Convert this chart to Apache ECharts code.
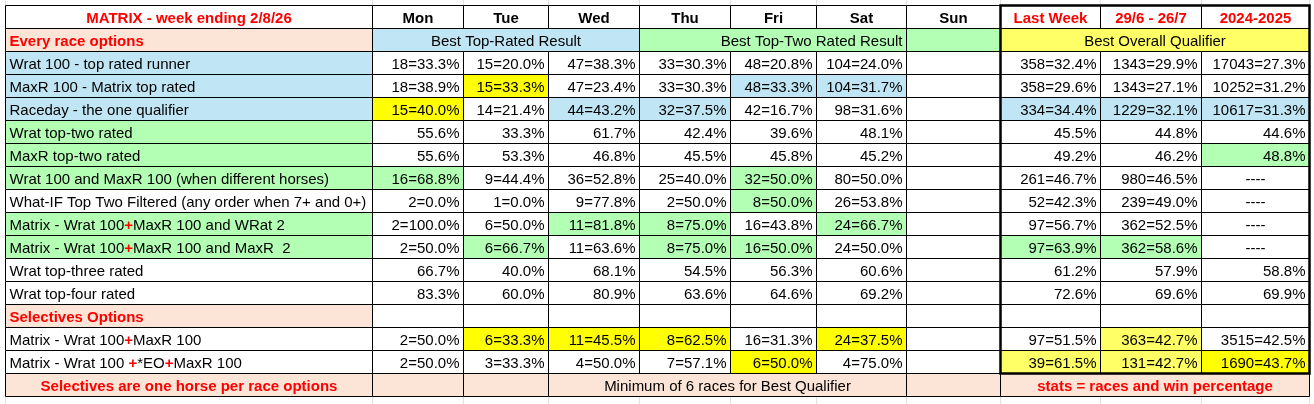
<!DOCTYPE html>
<html>
<head>
<meta charset="utf-8">
<script src="https://cdn.jsdelivr.net/npm/echarts@6.0.0/dist/echarts.min.js"></script>
<style>
html, body { margin: 0; padding: 0; background: #fff; }
#main { width: 1314px; height: 404px; }
</style>
</head>
<body>
<div id="main"></div>
<script>
// table data
const title = 'MATRIX - week ending 2/8/26';
const dayCols = ['Mon', 'Tue', 'Wed', 'Thu', 'Fri', 'Sat', 'Sun'];
const periodCols = ['Last Week', '29/6 - 26/7', '2024-2025'];
const groupTitles = ['Best Top-Rated Result', 'Best Top-Two Rated Result', 'Best Overall Qualifier'];
const sectionTitles = ['Every race options', 'Selectives Options'];
const everyRaceRows = [
    'Wrat 100 - top rated runner',
    'MaxR 100 - Matrix top rated',
    'Raceday - the one qualifier',
    'Wrat top-two rated',
    'MaxR top-two rated',
    'Wrat 100 and MaxR 100 (when different horses)',
    'What-IF Top Two Filtered (any order when 7+ and 0+)',
    'Matrix - Wrat 100+MaxR 100 and WRat 2',
    'Matrix - Wrat 100+MaxR 100 and MaxR  2',
    'Wrat top-three rated',
    'Wrat top-four rated'
];
const selectiveRows = [
    'Matrix - Wrat 100+MaxR 100',
    'Matrix - Wrat 100 +*EO+MaxR 100'
];
const footerNotes = [
    'Selectives are one horse per race options',
    'Minimum of 6 races for Best Qualifier',
    'stats = races and win percentage'
];

const mon = ['18=33.3%', '18=38.9%', '15=40.0%', '55.6%', '55.6%', '16=68.8%', '2=0.0%', '2=100.0%', '2=50.0%', '66.7%', '83.3%', '2=50.0%', '2=50.0%'];
const tue = ['15=20.0%', '15=33.3%', '14=21.4%', '33.3%', '53.3%', '9=44.4%', '1=0.0%', '6=50.0%', '6=66.7%', '40.0%', '60.0%', '6=33.3%', '3=33.3%'];
const wed = ['47=38.3%', '47=23.4%', '44=43.2%', '61.7%', '46.8%', '36=52.8%', '9=77.8%', '11=81.8%', '11=63.6%', '68.1%', '80.9%', '11=45.5%', '4=50.0%'];
const thu = ['33=30.3%', '33=30.3%', '32=37.5%', '42.4%', '45.5%', '25=40.0%', '2=50.0%', '8=75.0%', '8=75.0%', '54.5%', '63.6%', '8=62.5%', '7=57.1%'];
const fri = ['48=20.8%', '48=33.3%', '42=16.7%', '39.6%', '45.8%', '32=50.0%', '8=50.0%', '16=43.8%', '16=50.0%', '56.3%', '64.6%', '16=31.3%', '6=50.0%'];
const sat = ['104=24.0%', '104=31.7%', '98=31.6%', '48.1%', '45.2%', '80=50.0%', '26=53.8%', '24=66.7%', '24=50.0%', '60.6%', '69.2%', '24=37.5%', '4=75.0%'];
const sun = ['', '', '', '', '', '', '', '', '', '', '', '', ''];
const lastWeek = ['358=32.4%', '358=29.6%', '334=34.4%', '45.5%', '49.2%', '261=46.7%', '52=42.3%', '97=56.7%', '97=63.9%', '61.2%', '72.6%', '97=51.5%', '39=61.5%'];
const lastMonth = ['1343=29.9%', '1343=27.1%', '1229=32.1%', '44.8%', '46.2%', '980=46.5%', '239=49.0%', '362=52.5%', '362=58.6%', '57.9%', '69.6%', '363=42.7%', '131=42.7%'];
const season = ['17043=27.3%', '10252=31.2%', '10617=31.3%', '44.6%', '48.8%', '----', '----', '----', '----', '58.8%', '69.9%', '3515=42.5%', '1690=43.7%'];

const valueCols = [mon, tue, wed, thu, fri, sat, sun, lastWeek, lastMonth, season];

// styles
const PEACH = '#FCE4D6', BLUE = '#C0E6F5', GREEN = '#B3FFB3', YELLOW = '#FFFF00', LYELLOW = '#FFFF66', RED = '#FF0000';
const FONT = '"Liberation Sans", Arial, sans-serif';
const FS = 15;
const labelFills = [BLUE, BLUE, BLUE, GREEN, GREEN, GREEN, null, GREEN, GREEN, null, null, null, null];
// body row index , value column index (0 = Mon)
const highlights = {
    '1,1': YELLOW, '1,4': BLUE, '1,5': BLUE,
    '2,0': YELLOW, '2,2': BLUE, '2,3': BLUE, '2,7': BLUE, '2,8': BLUE, '2,9': BLUE,
    '4,9': GREEN,
    '5,0': GREEN, '5,4': GREEN,
    '6,4': GREEN,
    '7,2': GREEN, '7,3': GREEN, '7,5': GREEN,
    '8,1': GREEN, '8,3': GREEN, '8,4': GREEN, '8,7': GREEN, '8,8': GREEN,
    '11,1': YELLOW, '11,2': YELLOW, '11,3': YELLOW, '11,5': YELLOW, '11,8': LYELLOW,
    '12,4': YELLOW, '12,7': LYELLOW, '12,8': LYELLOW, '12,9': YELLOW
};

// layout: column edges in px from table left
const colEdges = [0, 367, 458, 543, 634, 725, 811, 901, 995, 1095, 1196, 1304];
const ROWS = 17;

const cells = [];
function addCell(c0, c1, row, text, opt) {
    opt = opt || {};
    cells.push({
        value: [colEdges[c0], colEdges[c1], row, row + 1],
        text: text,
        fill: opt.fill || '#fff',
        color: opt.color || '#000',
        bold: !!opt.bold,
        align: opt.align || 'right',
        redPlus: !!opt.redPlus
    });
}

addCell(0, 1, 0, title, { color: RED, bold: true, align: 'center' });
dayCols.forEach((d, i) => addCell(i + 1, i + 2, 0, d, { bold: true, align: 'center' }));
periodCols.forEach((d, i) => addCell(i + 8, i + 9, 0, d, { bold: true, color: RED, align: 'center' }));

addCell(0, 1, 1, sectionTitles[0], { fill: PEACH, color: RED, bold: true, align: 'left' });
addCell(1, 4, 1, groupTitles[0], { fill: BLUE, align: 'center' });
addCell(4, 7, 1, groupTitles[1], { fill: GREEN, align: 'right' });
addCell(7, 8, 1, '', { fill: GREEN });
addCell(8, 11, 1, groupTitles[2], { fill: LYELLOW, align: 'center' });

function addBodyRow(i, row, label) {
    addCell(0, 1, row, label, { fill: labelFills[i], align: 'left', redPlus: label.indexOf('Matrix') === 0 });
    valueCols.forEach((col, c) => {
        const v = col[i];
        addCell(c + 1, c + 2, row, v, {
            fill: highlights[i + ',' + c],
            align: v === '----' ? 'center' : 'right'
        });
    });
}
everyRaceRows.forEach((label, i) => addBodyRow(i, i + 2, label));

addCell(0, 1, 13, sectionTitles[1], { fill: PEACH, color: RED, bold: true, align: 'left' });
for (let c = 1; c < 11; c++) addCell(c, c + 1, 13, '');
selectiveRows.forEach((label, k) => addBodyRow(everyRaceRows.length + k, 14 + k, label));

addCell(0, 1, 16, footerNotes[0], { fill: PEACH, color: RED, bold: true, align: 'center' });
addCell(1, 2, 16, '', { fill: PEACH });
addCell(2, 3, 16, '', { fill: PEACH });
addCell(3, 7, 16, footerNotes[1], { fill: PEACH, align: 'center' });
addCell(7, 8, 16, '', { fill: PEACH });
addCell(8, 11, 16, footerNotes[2], { fill: PEACH, color: RED, bold: true, align: 'center' });

const frame = [[colEdges[8], colEdges[11], 0, 16]];
// faint sheet gridlines outside the table
const sheetLines = colEdges.map(x => [x, x, -0.4, ROWS + 0.5]);

const chart = echarts.init(document.getElementById('main'));

function box(api) {
    const p0 = api.coord([api.value(0), api.value(2)]);
    const p1 = api.coord([api.value(1), api.value(3)]);
    const x = Math.round(p0[0]) + 0.5, y = Math.round(p0[1]) + 0.5;
    return { x: x, y: y, w: Math.round(p1[0]) + 0.5 - x, h: Math.round(p1[1]) + 0.5 - y };
}

chart.setOption({
    animation: false,
    grid: { left: 5, top: 5, width: colEdges[colEdges.length - 1], height: ROWS * 23 },
    xAxis: { type: 'value', min: 0, max: colEdges[colEdges.length - 1], show: false },
    yAxis: { type: 'value', min: 0, max: ROWS, inverse: true, show: false },
    series: [
        {
            type: 'custom',
            clip: false,
            data: sheetLines,
            renderItem: function (params, api) {
                const b = box(api);
                return {
                    type: 'line',
                    shape: { x1: b.x, y1: b.y, x2: b.x, y2: b.y + b.h },
                    style: { stroke: '#E1E1E1', lineWidth: 1 }
                };
            }
        },
        {
            type: 'custom',
            clip: false,
            data: cells.map(c => c.value),
            renderItem: function (params, api) {
                const cell = cells[params.dataIndex];
                const b = box(api);
                let tx = b.x + b.w / 2;
                if (cell.align === 'left') tx = b.x + 4;
                if (cell.align === 'right') tx = b.x + b.w - 4;
                return {
                    type: 'group',
                    children: [
                        {
                            type: 'rect',
                            shape: { x: b.x, y: b.y, width: b.w, height: b.h },
                            style: { fill: cell.fill, stroke: '#000', lineWidth: 1 }
                        },
                        {
                            type: 'text',
                            style: {
                                text: cell.redPlus ? cell.text.replace(/\+/g, '{p|+}') : cell.text,
                                x: tx,
                                y: b.y + b.h / 2 + 1.5,
                                align: cell.align,
                                verticalAlign: 'middle',
                                fill: cell.color,
                                fontFamily: FONT,
                                fontSize: FS,
                                fontWeight: cell.bold ? 'bold' : 'normal',
                                rich: {
                                    p: { fill: RED, fontWeight: 'bold', fontFamily: FONT, fontSize: FS }
                                }
                            }
                        }
                    ]
                };
            }
        },
        {
            type: 'custom',
            clip: false,
            data: frame,
            renderItem: function (params, api) {
                const b = box(api);
                return {
                    type: 'rect',
                    shape: { x: b.x, y: b.y, width: b.w, height: b.h },
                    style: { fill: null, stroke: '#000', lineWidth: 2.5 }
                };
            }
        }
    ]
});
</script>
</body>
</html>
